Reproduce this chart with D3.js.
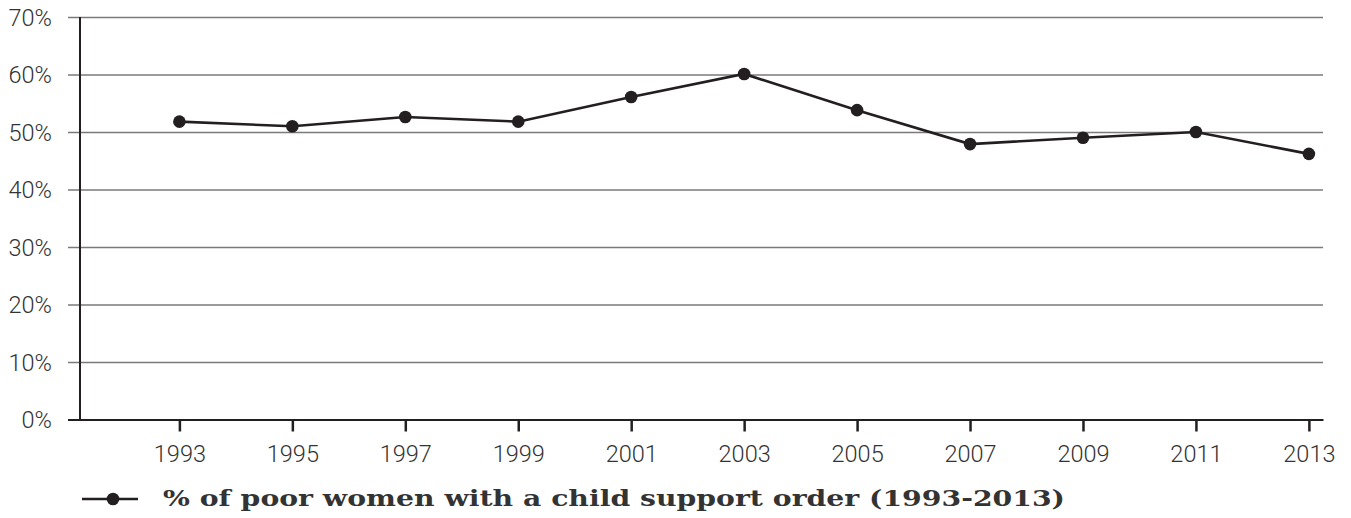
<!DOCTYPE html>
<html>
<head>
<meta charset="UTF-8">
<title>Poor women with a child support order</title>
<script src="https://cdn.jsdelivr.net/npm/d3@7"></script>
<style>
  body { margin: 0; background: #fff; }
  .tick text { font-family: Roboto, sans-serif; font-weight: 300; font-size: 23.5px; fill: #333; }
</style>
</head>
<body>
<svg id="chart" width="1351" height="518"></svg>
<script>
// data
var years = [1993, 1995, 1997, 1999, 2001, 2003, 2005, 2007, 2009, 2011, 2013];
var shareWithOrder = [51.8, 51.0, 52.6, 51.8, 56.1, 60.1, 53.8, 47.9, 49.0, 50.0, 46.2];
var yTicks = [0, 10, 20, 30, 40, 50, 60, 70];
var legendLabel = "% of poor women with a child support order (1993-2013)";

var ink = "#231f20";
var svg = d3.select("#chart");

var x = d3.scaleLinear().domain([1991.24, 2013.25]).range([80, 1323]);
var y = d3.scaleLinear().domain([0, 70]).range([419.5, 17]);

// horizontal gridlines + y labels
var yAxis = d3.axisLeft(y)
    .tickValues(yTicks)
    .tickSize(-(1323 - 68))
    .tickPadding(16)
    .tickFormat(function (d) { return d + "%"; });

var gy = svg.append("g")
    .attr("transform", "translate(68,0)")
    .call(yAxis);
gy.select(".domain").remove();
gy.selectAll(".tick line")
    .attr("stroke", function (d) { return d === 0 ? ink : "#7a7a7a"; })
    .attr("stroke-width", function (d) { return d === 0 ? 2 : 1.3; });
gy.selectAll(".tick text").attr("dy", "0.36em");

// x axis (ticks below baseline)
var xAxis = d3.axisBottom(x)
    .tickValues(years)
    .tickSize(12)
    .tickSizeOuter(0)
    .tickPadding(14)
    .tickFormat(d3.format("d"));

var gx = svg.append("g")
    .attr("transform", "translate(0," + y(0) + ")")
    .call(xAxis);
gx.select(".domain").attr("stroke", ink).attr("stroke-width", 2);
gx.selectAll(".tick line").attr("stroke", ink).attr("stroke-width", 2.5);

// vertical y axis line
svg.append("line")
    .attr("x1", x.range()[0]).attr("x2", x.range()[0])
    .attr("y1", y(70)).attr("y2", y(0))
    .attr("stroke", ink)
    .attr("stroke-width", 2);

// series
var points = years.map(function (yr, i) { return { year: yr, value: shareWithOrder[i] }; });

var line = d3.line()
    .x(function (d) { return x(d.year); })
    .y(function (d) { return y(d.value); });

svg.append("path")
    .datum(points)
    .attr("d", line)
    .attr("fill", "none")
    .attr("stroke", ink)
    .attr("stroke-width", 2.6);

svg.selectAll("circle.pt")
    .data(points)
    .enter().append("circle")
    .attr("class", "pt")
    .attr("cx", function (d) { return x(d.year); })
    .attr("cy", function (d) { return y(d.value); })
    .attr("r", 6.3)
    .attr("fill", ink);

// legend
var legend = svg.append("g").attr("transform", "translate(82,499)");
legend.append("line")
    .attr("x1", 0).attr("x2", 56)
    .attr("y1", 0).attr("y2", 0)
    .attr("stroke", ink)
    .attr("stroke-width", 2.6);
legend.append("circle")
    .attr("cx", 31).attr("cy", 0).attr("r", 6.3)
    .attr("fill", ink);
legend.append("text")
    .attr("x", 81)
    .attr("y", 7)
    .attr("textLength", 902)
    .attr("lengthAdjust", "spacingAndGlyphs")
    .style("font-family", "'DejaVu Serif', serif")
    .style("font-weight", "bold")
    .style("font-size", "23px")
    .style("fill", "#333")
    .text(legendLabel);
</script>
</body>
</html>
